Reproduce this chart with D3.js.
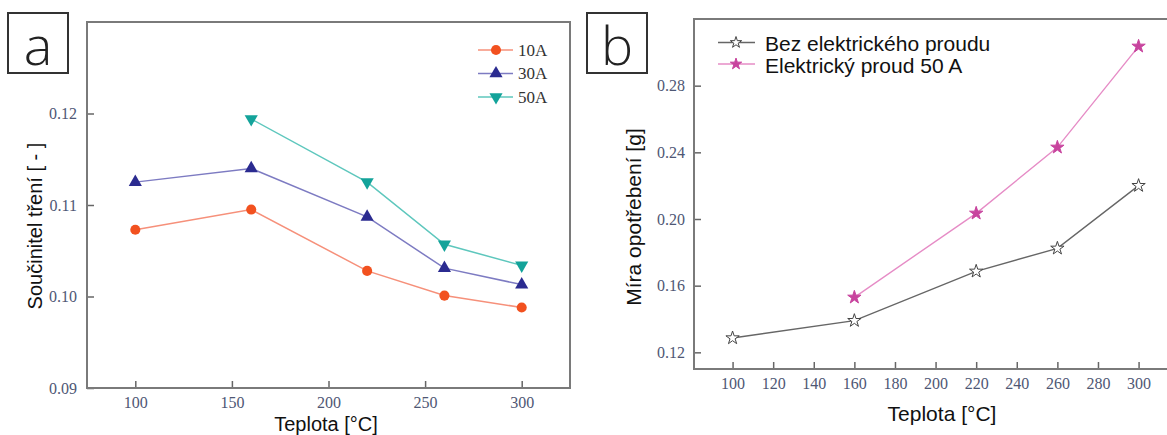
<!DOCTYPE html>
<html><head><meta charset="utf-8">
<script src="https://cdn.jsdelivr.net/npm/d3@7"></script>
<style>
body{margin:0;background:#fff;}
svg{display:block;}
</style></head>
<body>
<svg id="c" width="1167" height="435"></svg>
<script>
// ---- Panel a data ----
const tempsA = [100, 160, 220, 260, 300];
const seriesA10 = [0.1073, 0.1095, 0.1028, 0.1001, 0.0988];
const seriesA30 = [0.1125, 0.1140, 0.1087, 0.1031, 0.1013];
const tempsA50 = [160, 220, 260, 300];
const seriesA50 = [0.1194, 0.1125, 0.1057, 0.1034];
const xTicksA = [100, 150, 200, 250, 300];
const yTicksA = [0.09, 0.10, 0.11, 0.12];
const legendA = ["10A", "30A", "50A"];

// ---- Panel b data ----
const tempsB = [100, 160, 220, 260, 300];
const seriesBez = [0.1286, 0.1390, 0.1686, 0.1824, 0.2200];
const tempsB50 = [160, 220, 260, 300];
const seriesB50 = [0.1530, 0.2034, 0.2430, 0.3036];
const xTicksB = [100, 120, 140, 160, 180, 200, 220, 240, 260, 280, 300];
const yTicksB = [0.12, 0.16, 0.20, 0.24, 0.28];
const legendB = ["Bez elektrického proudu", "Elektrický proud 50 A"];

const svg = d3.select("#c");
const tickColor = "#4e5774";
const serif = "Liberation Serif, Times New Roman, serif";
const sans = "Liberation Sans, Arial, sans-serif";

function styleAxis(g){
  g.attr("font-family", serif).attr("font-size", 16);
  g.select(".domain").remove();
  g.selectAll(".tick line").attr("stroke","#666").attr("stroke-width",1.5);
  g.selectAll(".tick text").attr("fill",tickColor);
}

// ================= Panel a =================
const xA = d3.scaleLinear().domain([75, 325]).range([87, 570]);
const yA = d3.scaleLinear().domain([0.09, 0.13]).range([388, 22]);

svg.append("g").attr("transform","translate(0,388)")
  .call(d3.axisBottom(xA).tickValues(xTicksA).tickSize(-7).tickPadding(9).tickFormat(d3.format("d")))
  .call(styleAxis);
svg.append("g").attr("transform","translate(87,0)")
  .call(d3.axisLeft(yA).tickValues(yTicksA).tickSize(-7).tickPadding(10).tickFormat(d3.format(".2f")))
  .call(styleAxis);
svg.append("rect").attr("x",xA.range()[0]).attr("y",yA.range()[1])
  .attr("width",xA.range()[1]-xA.range()[0]).attr("height",yA.range()[0]-yA.range()[1])
  .attr("fill","none").attr("stroke","#7a7a7a").attr("stroke-width",2);

const seriesAcfg = [
  {x: tempsA, y: seriesA10, line:"#f6907a", mark:"#f2511f", sym:d3.symbolCircle, size:80, rot:0},
  {x: tempsA, y: seriesA30, line:"#7d7bc2", mark:"#2b2b90", sym:d3.symbolTriangle, size:75, rot:0},
  {x: tempsA50, y: seriesA50, line:"#5ec7bd", mark:"#13a39a", sym:d3.symbolTriangle, size:75, rot:180}
];
const lineGen = (xs, ys, x, y) => d3.line().x((d,i)=>x(xs[i])).y((d,i)=>y(d))(ys);
seriesAcfg.forEach(s=>{
  svg.append("path").attr("d", lineGen(s.x, s.y, xA, yA)).attr("fill","none")
    .attr("stroke", s.line).attr("stroke-width",1.5);
  svg.append("g").selectAll("path").data(s.y).join("path")
    .attr("d", d3.symbol(s.sym, s.size))
    .attr("transform",(d,i)=>`translate(${xA(s.x[i])},${yA(d)}) rotate(${s.rot})`)
    .attr("fill", s.mark);
});
// legend a
seriesAcfg.forEach((s,i)=>{
  const yy = 50 + i*23.5;
  svg.append("line").attr("x1",478).attr("x2",513).attr("y1",yy).attr("y2",yy)
    .attr("stroke",s.line).attr("stroke-width",1.5);
  svg.append("path").attr("d", d3.symbol(s.sym, s.size))
    .attr("transform",`translate(496,${yy}) rotate(${s.rot})`).attr("fill",s.mark);
  svg.append("text").attr("x",518).attr("y",yy).attr("dominant-baseline","central")
    .attr("font-family",serif).attr("font-size",17).attr("fill","#333").text(legendA[i]);
});
svg.append("text").attr("transform","translate(35,226) rotate(-90)").attr("text-anchor","middle")
  .attr("dominant-baseline","central").attr("font-family",sans).attr("font-size",20).attr("fill","#111")
  .text("Součinitel tření [ - ]");
svg.append("text").attr("x",326).attr("y",424).attr("text-anchor","middle")
  .attr("dominant-baseline","central").attr("font-family",sans).attr("font-size",20).attr("fill","#111")
  .text("Teplota [°C]");

// ================= Panel b =================
const xB = d3.scaleLinear().domain([81, 314]).range([694, 1167]);
const yB = d3.scaleLinear().domain([0.11, 0.32]).range([369, 19]);

svg.append("g").attr("transform","translate(0,369)")
  .call(d3.axisBottom(xB).tickValues(xTicksB).tickSize(-7).tickPadding(9).tickFormat(d3.format("d")))
  .call(styleAxis);
svg.append("g").attr("transform","translate(694,0)")
  .call(d3.axisLeft(yB).tickValues(yTicksB).tickSize(-7).tickPadding(9).tickFormat(d3.format(".2f")))
  .call(styleAxis);
svg.append("path")
  .attr("d",`M${xB.range()[1]},${yB.range()[1]}H${xB.range()[0]}V${yB.range()[0]}H${xB.range()[1]}`)
  .attr("fill","none").attr("stroke","#7a7a7a").attr("stroke-width",2);

const seriesBcfg = [
  {x: tempsB, y: seriesBez, line:"#666", mark:"#444", fill:"#fff"},
  {x: tempsB50, y: seriesB50, line:"#e68cc6", mark:"#c8449e", fill:"#c8449e"}
];
seriesBcfg.forEach(s=>{
  svg.append("path").attr("d", lineGen(s.x, s.y, xB, yB)).attr("fill","none")
    .attr("stroke", s.line).attr("stroke-width",1.4);
  svg.append("g").selectAll("path").data(s.y).join("path")
    .attr("d", d3.symbol(d3.symbolStar, 55))
    .attr("transform",(d,i)=>`translate(${xB(s.x[i])},${yB(d)})`)
    .attr("fill", s.fill).attr("stroke", s.mark).attr("stroke-width",1);
});
seriesBcfg.forEach((s,i)=>{
  const yy = 42.5 + i*21.5;
  svg.append("line").attr("x1",718).attr("x2",755).attr("y1",yy).attr("y2",yy)
    .attr("stroke",s.line).attr("stroke-width",1.4);
  svg.append("path").attr("d", d3.symbol(d3.symbolStar, 40))
    .attr("transform",`translate(736,${yy})`).attr("fill",s.fill).attr("stroke",s.mark).attr("stroke-width",1);
  svg.append("text").attr("x",765).attr("y",yy+1).attr("dominant-baseline","central")
    .attr("font-family",sans).attr("font-size",21).attr("fill","#111").text(legendB[i]);
});
svg.append("text").attr("transform","translate(633,217) rotate(-90)").attr("text-anchor","middle")
  .attr("dominant-baseline","central").attr("font-family",sans).attr("font-size",21).attr("fill","#111")
  .text("Míra opotřebení [g]");
svg.append("text").attr("x",942).attr("y",413).attr("text-anchor","middle")
  .attr("dominant-baseline","central").attr("font-family",sans).attr("font-size",21).attr("fill","#111")
  .text("Teplota [°C]");

// ---- panel labels ----
[["a",8],["b",587]].forEach(([t,x])=>{
  svg.append("rect").attr("x",x).attr("y",13).attr("width",60).attr("height",60)
    .attr("fill","#fff").attr("stroke","#333").attr("stroke-width",2);
  svg.append("text").attr("x",x+30).attr("y",44).attr("text-anchor","middle")
    .attr("dominant-baseline","central").attr("font-family","Open Sans, sans-serif")
    .attr("font-size",54).attr("font-weight",300).attr("fill","#222").text(t);
});
</script>
</body></html>
